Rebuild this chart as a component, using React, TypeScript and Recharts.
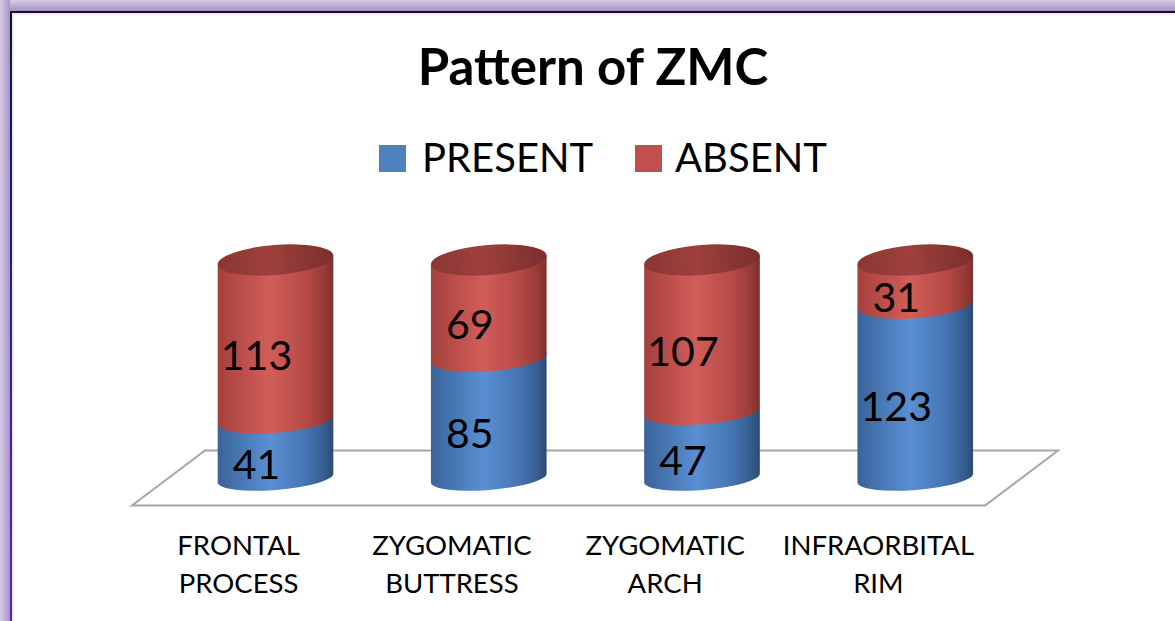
import React from 'react';
import { BarChart, Bar, XAxis, YAxis, Legend, LabelList } from 'recharts';

const categories = ['FRONTAL PROCESS', 'ZYGOMATIC BUTTRESS', 'ZYGOMATIC ARCH', 'INFRAORBITAL RIM'];
const present = [41, 85, 47, 123];
const absent = [113, 69, 107, 31];
const seriesNames = ['PRESENT', 'ABSENT'];
const seriesColors = ['#4F81BD', '#C0504D'];
const title = 'Pattern of ZMC';

const data = categories.map((c, i) => ({ name: c, present: present[i], absent: absent[i] }));

const W = 1175;
const H = 621;
const AXIS_H = 80;
const M = { top: 260, right: 153.5, bottom: 63, left: 168.5 };
const BASE_Y = H - M.bottom - AXIS_H; // 478
const TOP_Y = M.top;
const DEPTH_X = 36.5;
const DEPTH_Y = 27.5;
const TILT = -4.5;
const FONT = 'Lato, "Open Sans", "Liberation Sans", sans-serif';

const th = (TILT * Math.PI) / 180;
const ryAt = (y: number) => 12 + ((BASE_Y - y) / (BASE_Y - TOP_Y)) * 3;

function ends(cx: number, cy: number, rx: number) {
  return {
    lx: cx - rx * Math.cos(th),
    ly: cy - rx * Math.sin(th),
    rx2: cx + rx * Math.cos(th),
    ry2: cy + rx * Math.sin(th),
  };
}

function makeShape(grad: string, isTop: boolean) {
  return (props: any) => {
    const { x, y, width, height } = props;
    if (!width || height == null || height <= 0) return <g />;
    const cx = x + width / 2;
    const rx = width / 2;
    const t = ends(cx, y, rx);
    const b = ends(cx, y + height, rx);
    const ryB = ryAt(y + height);
    const d = `M${t.lx},${t.ly} L${b.lx},${b.ly} A${rx},${ryB} ${TILT} 0 0 ${b.rx2},${b.ry2} L${t.rx2},${t.ry2} Z`;
    return (
      <g>
        <path d={d} fill={`url(#${grad})`} />
        {isTop && (
          <ellipse
            cx={cx}
            cy={y}
            rx={rx}
            ry={ryAt(y)}
            fill="url(#gCap)"
            transform={`rotate(${TILT} ${cx} ${y})`}
          />
        )}
      </g>
    );
  };
}

const renderLabel = (p: any) => {
  const { x, y, width, height, value } = p;
  return (
    <text
      x={x + width / 2 - 19}
      y={y + height / 2 + 30}
      textAnchor="middle"
      fontSize={41}
      fontFamily={FONT}
      fill="#000"
    >
      {value}
    </text>
  );
};

const CategoryTick = (p: any) => {
  const lines = String(p.payload.value).split(' ');
  return (
    <g>
      {lines.map((l, i) => (
        <text
          key={i}
          x={p.x - DEPTH_X}
          y={BASE_Y + 77 + i * 38}
          textAnchor="middle"
          fontSize={27.5}
          fontFamily={FONT}
          fill="#000"
        >
          {l}
        </text>
      ))}
    </g>
  );
};

const legendPos = [
  { sx: 379, tx: 422 },
  { sx: 635, tx: 675 },
];

const renderLegend = (props: any) => {
  const payload = [...(props.payload || [])].sort(
    (a: any, b: any) => seriesNames.indexOf(a.value) - seriesNames.indexOf(b.value)
  );
  return (
    <svg width={W} height={200} style={{ display: 'block' }}>
      {payload.map((e: any, i: number) => (
        <g key={i}>
          <rect x={legendPos[i].sx} y={145} width={27} height={27} fill={e.color} />
          <text x={legendPos[i].tx} y={172} fontSize={40} fontFamily={FONT} fill="#000">
            {e.value}
          </text>
        </g>
      ))}
    </svg>
  );
};

export default function App() {
  const plotL = M.left;
  const plotR = W - M.right;
  const floor = [
    [plotL - DEPTH_X, BASE_Y + DEPTH_Y],
    [plotL + DEPTH_X, BASE_Y - DEPTH_Y],
    [plotR + DEPTH_X, BASE_Y - DEPTH_Y],
    [plotR - DEPTH_X, BASE_Y + DEPTH_Y],
  ]
    .map((p) => p.join(','))
    .join(' ');

  return (
    <div style={{ position: 'absolute', left: 0, top: 0, width: W, height: H, overflow: 'hidden', background: '#fff' }}>
      <svg width={W} height={H} style={{ position: 'absolute', left: 0, top: 0 }}>
        <defs>
          <linearGradient id="frameTop" x1="0" y1="0" x2="0" y2="1">
            <stop offset="0" stopColor="#d6cbe6" />
            <stop offset="1" stopColor="#a792c6" />
          </linearGradient>
          <linearGradient id="frameLeft" x1="0" y1="0" x2="1" y2="0">
            <stop offset="0" stopColor="#d6cbe6" />
            <stop offset="1" stopColor="#a792c6" />
          </linearGradient>
          <linearGradient id="leftLine" x1="0" y1="0" x2="0" y2="1">
            <stop offset="0" stopColor="#111122" />
            <stop offset="0.35" stopColor="#1c1a8a" />
            <stop offset="1" stopColor="#5a22d0" />
          </linearGradient>
        </defs>
        <rect x={0} y={0} width={W} height={11} fill="url(#frameTop)" />
        <rect x={0} y={0} width={10} height={H} fill="url(#frameLeft)" />
        <rect x={12} y={13} width={W} height={2} fill="#ececf2" />
        <rect x={12} y={13} width={2} height={H} fill="#ececf2" />
        <rect x={10} y={11} width={W} height={2} fill="#15122a" />
        <rect x={10} y={11} width={2} height={H} fill="url(#leftLine)" />
        <polygon points={floor} fill="#fff" stroke="#a6a6a6" strokeWidth={2} />
        <text x={593} y={85} textAnchor="middle" fontSize={51} fontWeight="bold" fontFamily={FONT} fill="#000">
          {title}
        </text>
      </svg>
      <div style={{ position: 'absolute', left: 0, top: 0 }}>
        <BarChart width={W} height={H} data={data} margin={M} barSize={116}>
          <defs>
            <linearGradient id="gBlue" x1="0" y1="0" x2="1" y2="0">
              <stop offset="0" stopColor="#3a6498" />
              <stop offset="0.15" stopColor="#4472ad" />
              <stop offset="0.45" stopColor="#5a8fd3" />
              <stop offset="0.75" stopColor="#4676b3" />
              <stop offset="0.92" stopColor="#365e91" />
              <stop offset="1" stopColor="#2b4a74" />
            </linearGradient>
            <linearGradient id="gRed" x1="0" y1="0" x2="1" y2="0">
              <stop offset="0" stopColor="#a4403d" />
              <stop offset="0.15" stopColor="#b64a47" />
              <stop offset="0.45" stopColor="#d15d58" />
              <stop offset="0.75" stopColor="#b84b47" />
              <stop offset="0.92" stopColor="#9a3b38" />
              <stop offset="1" stopColor="#7e2e2c" />
            </linearGradient>
            <linearGradient id="gCap" x1="0" y1="0" x2="1" y2="0">
              <stop offset="0" stopColor="#8a3735" />
              <stop offset="0.45" stopColor="#9e403d" />
              <stop offset="1" stopColor="#7a2f2d" />
            </linearGradient>
          </defs>
          <XAxis
            dataKey="name"
            axisLine={false}
            tickLine={false}
            tickSize={0}
            tickMargin={0}
            height={AXIS_H}
            interval={0}
            tick={<CategoryTick />}
          />
          <YAxis hide domain={[0, 154]} />
          <Legend
            verticalAlign="middle"
            align="center"
            content={renderLegend}
            wrapperStyle={{ top: 0, left: 0, width: W, height: 200 }}
          />
          <Bar
            dataKey="present"
            name={seriesNames[0]}
            stackId="a"
            fill={seriesColors[0]}
            isAnimationActive={false}
            shape={makeShape('gBlue', false)}
          >
            <LabelList dataKey="present" content={renderLabel} />
          </Bar>
          <Bar
            dataKey="absent"
            name={seriesNames[1]}
            stackId="a"
            fill={seriesColors[1]}
            isAnimationActive={false}
            shape={makeShape('gRed', true)}
          >
            <LabelList dataKey="absent" content={renderLabel} />
          </Bar>
        </BarChart>
      </div>
    </div>
  );
}
